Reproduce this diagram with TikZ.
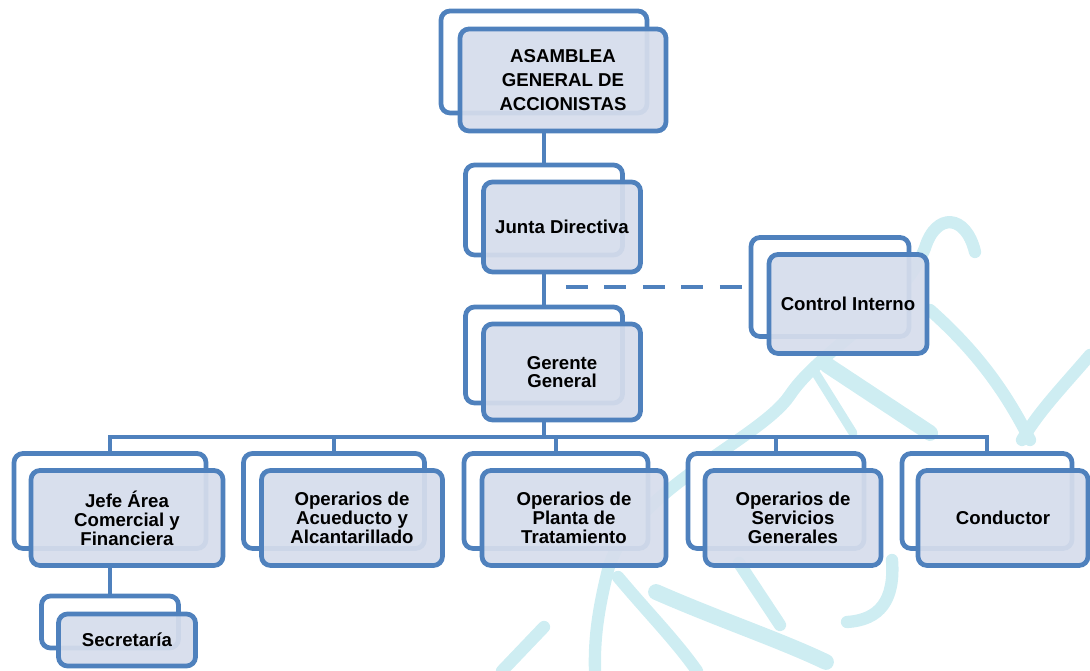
\documentclass[tikz,border=0pt]{standalone}
\usepackage{fontspec}
\setmainfont{Liberation Sans}
\usepackage{tikz}
\usetikzlibrary{calc}

\definecolor{azul}{RGB}{79,129,189}
\definecolor{relleno}{RGB}{214,221,236}
\definecolor{agua}{RGB}{206,237,242}

\tikzset{
	atras/.style={draw=azul, line width=2.7pt, rounded corners=0.18cm, fill=white, inner sep=0pt},
	frente/.style={draw=azul, line width=2.7pt, rounded corners=0.18cm, fill=relleno, fill opacity=0.93, text opacity=1, inner sep=0pt, align=center, font=\fontsize{10.6}{10.8}\selectfont\bfseries},
	conector/.style={draw=azul, line width=2.5pt},
	punteado/.style={draw=azul, line width=2.8pt, dash pattern=on 0.44cm off 0.33cm},
	marca/.style={draw=agua, line width=7pt, line cap=round}
}

\begin{document}
\begin{tikzpicture}[x=0.02cm, y=-0.02cm]
		\useasboundingbox (0,0) rectangle (1090,671);
		% marca de agua
		\draw[marca] (975,252) .. controls (966,214) and (936,212) .. (925,248) .. controls (900,310) and (820,350) .. (790,395) .. controls (760,440) and (630,490) .. (608,570) .. controls (598,610) and (594,640) .. (595,671);
		\draw[marca] (930,310) .. controls (975,350) and (1005,390) .. (1030,440);
		\draw[marca] (1090,355) .. controls (1060,390) and (1040,410) .. (1022,440);
		\draw[marca, line width=9pt] (827,365) -- (930,433);
		\draw[marca, line width=5pt] (815,372) -- (853,433);
		\draw[marca] (618,577) .. controls (650,615) and (675,640) .. (697,671);
		\draw[marca, line width=9pt] (656,592) .. controls (720,620) and (780,640) .. (826,662);
		\draw[marca] (544,627) -- (502,671);
		\draw[marca] (739,563) -- (780,625);
		\draw[marca] (892,560) .. controls (895,600) and (880,620) .. (847,622);
		% cajas
		\node[atras, minimum width=4.12cm, minimum height=2.04cm] (asamblea-b) at (544,62) {};
		\node[frente, minimum width=4.12cm, minimum height=2.04cm, font=\fontsize{10.6}{13.6}\selectfont\bfseries] (asamblea) at (563,80) {ASAMBLEA\\GENERAL DE\\ACCIONISTAS};
		\node[atras, minimum width=3.14cm, minimum height=1.8cm] (junta-b) at (544,210) {};
		\node[frente, minimum width=3.14cm, minimum height=1.8cm] (junta) at (562,227) {Junta Directiva};
		\node[atras, minimum width=3.14cm, minimum height=1.92cm] (gerente-b) at (544,355) {};
		\node[frente, minimum width=3.14cm, minimum height=1.92cm, font=\fontsize{10.6}{10.4}\selectfont\bfseries] (gerente) at (562,372) {Gerente\\General};
		\node[atras, minimum width=3.16cm, minimum height=1.98cm] (control-b) at (830,287) {};
		\node[frente, minimum width=3.16cm, minimum height=1.98cm] (control) at (848,304) {Control Interno};
		\begin{scope}[every node/.append style={minimum height=1.9cm}]
			\node[atras, minimum width=3.84cm] (jefe-b) at (110,501) {};
			\node[frente, minimum width=3.84cm] (jefe) at (127,518) {Jefe Área\\Comercial y\\Financiera};
			\node[atras, minimum width=3.62cm] (acueducto-b) at (334,501) {};
			\node[frente, minimum width=3.62cm] (acueducto) at (352,518) {Operarios de\\Acueducto y\\Alcantarillado};
			\node[atras, minimum width=3.68cm] (planta-b) at (556,501) {};
			\node[frente, minimum width=3.68cm] (planta) at (574,518) {Operarios de\\Planta de\\Tratamiento};
			\node[atras, minimum width=3.52cm] (servicios-b) at (776,501) {};
			\node[frente, minimum width=3.52cm] (servicios) at (793,518) {Operarios de\\Servicios\\Generales};
			\node[atras, minimum width=3.4cm] (conductor-b) at (987,501) {};
			\node[frente, minimum width=3.4cm] (conductor) at (1003,518) {Conductor};
		\end{scope}
		\node[atras, minimum width=2.74cm, minimum height=1.04cm] (secretaria-b) at (110,622) {};
		\node[frente, minimum width=2.74cm, minimum height=1.04cm] (secretaria) at (127,640) {Secretaría};
		% lineas
		\coordinate (bus) at (544,437);
		\draw[conector] (junta-b.north |- asamblea.south) -- (junta-b.north);
		\draw[conector] (gerente-b.north |- junta.south) -- (gerente-b.north);
		\draw[conector] (gerente-b.center |- gerente.south) -- (bus);
		\foreach \n in {jefe,acueducto,planta,servicios,conductor}
			\draw[conector] (bus) -| (\n-b.north);
		\draw[conector] (secretaria-b.north |- jefe.south) -- (secretaria-b.north);
		\draw[punteado, shorten <=0.44cm, shorten >=0.12cm] (control-b.west -| junta-b.south) -- (control-b.west);
	\end{tikzpicture}
\end{document}
